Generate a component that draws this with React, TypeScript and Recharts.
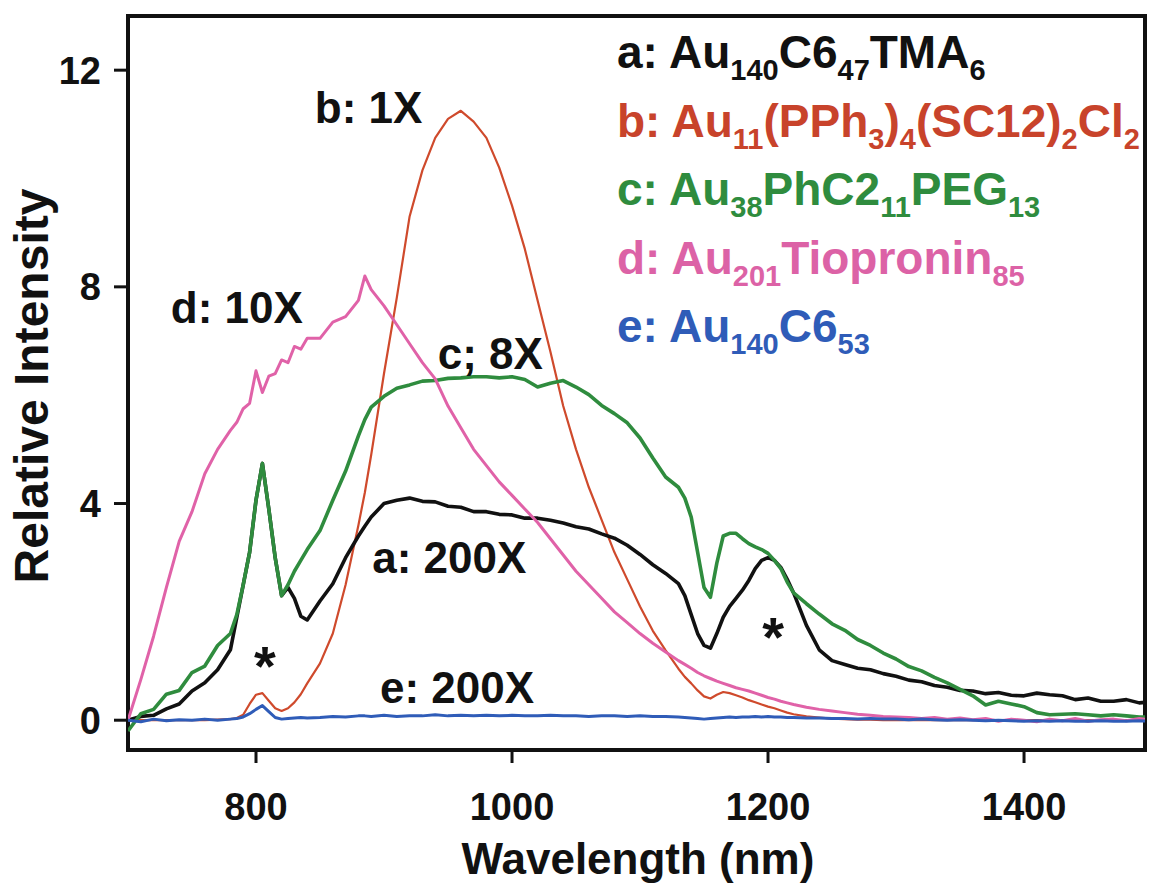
import React from 'react';
import { LineChart, Line, XAxis, YAxis, ReferenceArea, ReferenceDot, Legend } from 'recharts';

// ---------- data ----------
const wavelengths = [
  700, 710, 720, 730, 740, 750, 760, 770, 780,
  785, 790, 795, 800, 805, 810, 815, 820, 825, 830, 835, 840,
  850, 860, 870, 880, 885, 890, 900, 910, 920, 930, 940, 950, 960, 970, 980, 990, 1000,
  1010, 1020, 1030, 1040, 1050, 1060, 1070, 1080, 1090, 1100, 1110, 1120, 1130,
  1135, 1140, 1145, 1150, 1155, 1160, 1165, 1170, 1175, 1180, 1185, 1190, 1195, 1200, 1205, 1210, 1215, 1220,
  1230, 1240, 1250, 1260, 1270, 1280, 1290, 1300, 1310, 1320, 1330, 1340, 1350, 1360, 1370, 1380, 1390, 1400,
  1410, 1420, 1430, 1440, 1450, 1460, 1470, 1480, 1490, 1500,
];

// a: Au140C6_47TMA_6 (200X)
const seriesA = [
  0.0, 0.07, 0.09, 0.21, 0.3, 0.54, 0.69, 0.93, 1.3,
  1.9, 2.5, 3.1, 4.06, 4.74, 3.9, 3.0, 2.3, 2.45, 2.25, 1.92, 1.85,
  2.2, 2.52, 3.0, 3.4, 3.58, 3.75, 4.0, 4.06, 4.1, 4.04, 4.03, 3.95, 3.93, 3.85, 3.85, 3.8, 3.79,
  3.73, 3.73, 3.69, 3.64, 3.57, 3.53, 3.44, 3.36, 3.23, 3.06, 2.87, 2.71, 2.52,
  2.3, 1.95, 1.6, 1.38, 1.33, 1.6, 1.9, 2.1, 2.25, 2.4, 2.58, 2.8, 2.95, 3.0, 2.95, 2.82, 2.6, 2.35,
  1.75, 1.3, 1.1, 1.03, 0.96, 0.93, 0.86, 0.81, 0.74, 0.71, 0.64, 0.61, 0.55, 0.54, 0.49, 0.51, 0.46, 0.45,
  0.5, 0.47, 0.45, 0.38, 0.41, 0.35, 0.35, 0.38, 0.32, 0.34,
];

// b: Au11(PPh3)4(SC12)2Cl2 (1X)
const seriesB = [
  0, 0, 0, 0, 0, 0, 0, 0.01, 0.02,
  0.04, 0.1, 0.3, 0.47, 0.5, 0.36, 0.22, 0.17, 0.22, 0.33, 0.48, 0.68,
  1.05, 1.6, 2.5, 3.6, 4.2, 4.9, 6.4, 7.8, 9.3, 10.15, 10.75, 11.1, 11.25, 11.05, 10.75, 10.2, 9.5,
  8.7, 7.75, 6.8, 5.8, 5.0, 4.3, 3.7, 3.1, 2.6, 2.1, 1.65, 1.29, 0.95,
  0.8, 0.68, 0.55, 0.44, 0.4, 0.47, 0.52, 0.5, 0.46, 0.42, 0.37, 0.33, 0.29, 0.25, 0.22, 0.18, 0.14, 0.11,
  0.07, 0.05, 0.03, 0.02, 0.01, 0.01, 0, 0, 0, 0, 0, 0, 0, 0, 0, 0, 0, 0,
  0, 0, 0, 0, 0, 0, 0, 0, 0, 0,
];

// c: Au38PhC2_11PEG_13 (8X)
const seriesC = [
  -0.2, 0.12, 0.2, 0.48, 0.55, 0.88, 1.0, 1.38, 1.6,
  1.95, 2.5, 3.1, 4.06, 4.74, 3.9, 3.0, 2.3, 2.5, 2.75, 2.95, 3.15,
  3.5, 4.06, 4.6, 5.25, 5.55, 5.78, 5.98, 6.13, 6.19, 6.26, 6.27, 6.31, 6.32, 6.34, 6.34, 6.32, 6.34,
  6.29, 6.15, 6.22, 6.27, 6.15, 6.01, 5.81, 5.66, 5.49, 5.21, 4.84, 4.49, 4.3,
  4.1, 3.75, 3.1, 2.45, 2.27, 2.9, 3.4, 3.45, 3.45, 3.35, 3.26, 3.2, 3.15, 3.08, 2.95, 2.8, 2.55, 2.35,
  2.15, 1.96, 1.78, 1.66, 1.49, 1.38, 1.24, 1.13, 0.99, 0.91, 0.79, 0.69, 0.57, 0.45, 0.28, 0.35, 0.3, 0.25,
  0.14, 0.1, 0.11, 0.12, 0.1, 0.08, 0.1, 0.08, 0.06, 0.06,
];

// d: Au201Tiopronin85 (10X)
const seriesD = [
  0.0, 0.75, 1.55, 2.45, 3.3, 3.85, 4.55, 5.0, 5.35,
  5.5, 5.75, 5.85, 6.45, 6.05, 6.35, 6.4, 6.65, 6.6, 6.9, 6.85, 7.05,
  7.05, 7.35, 7.45, 7.75, 8.2, 7.95, 7.65, 7.3, 6.95, 6.6, 6.3, 5.8, 5.4, 5.0, 4.7, 4.4, 4.15,
  3.9, 3.65, 3.35, 3.05, 2.75, 2.5, 2.25, 2.0, 1.8, 1.6, 1.42, 1.26, 1.1,
  1.03, 0.96, 0.88, 0.82, 0.77, 0.72, 0.68, 0.64, 0.6, 0.57, 0.54, 0.5, 0.46, 0.42, 0.39, 0.35, 0.32, 0.29,
  0.24, 0.2, 0.17, 0.14, 0.11, 0.09, 0.07, 0.06, 0.05, 0.03, 0.05, 0.02, 0.04, 0.01, 0.03, -0.02, 0.02, 0.0,
  -0.03, 0.02, -0.01, 0.03, -0.02, 0.01, 0.02, -0.01, 0.03, 0.0,
];

// e: Au140C6_53 (200X)
const seriesE = [
  0.0, -0.03, 0.02, -0.01, 0.01, 0.0, 0.02, 0.0, 0.02,
  0.03, 0.06, 0.12, 0.2, 0.27, 0.16, 0.05, 0.02, 0.03, 0.04, 0.05, 0.04,
  0.05, 0.07, 0.06, 0.08, 0.08, 0.07, 0.09, 0.07, 0.08, 0.08, 0.1, 0.08, 0.09, 0.08, 0.09, 0.08, 0.09,
  0.08, 0.08, 0.09, 0.08, 0.08, 0.07, 0.08, 0.08, 0.07, 0.08, 0.07, 0.07, 0.06,
  0.05, 0.04, 0.03, 0.02, 0.03, 0.04, 0.05, 0.06, 0.05, 0.06, 0.06, 0.07, 0.06, 0.07, 0.06, 0.06, 0.05, 0.05,
  0.04, 0.04, 0.03, 0.03, 0.02, 0.03, 0.02, 0.02, 0.01, 0.02, 0.01, 0.0, 0.01, 0.0, -0.01, 0.0, -0.01, -0.02,
  -0.01, -0.02, -0.01, -0.02, -0.02, -0.01, -0.02, -0.02, -0.01, -0.02,
];

const xTicks = [800, 1000, 1200, 1400];
const yTicks = [0, 4, 8, 12];
const xDomain = [700, 1494.5];
const yDomain = [-0.55, 13];

const seriesKeys = ['b', 'a', 'c', 'd', 'e'];
const seriesColors: Record<string, string> = {
  a: '#111111',
  b: '#cf4a2c',
  c: '#2f8c3e',
  d: '#e062a8',
  e: '#2f5cb8',
};
const seriesWidths: Record<string, number> = { a: 3.6, b: 2.2, c: 3.6, d: 3, e: 3 };

// annotations: text, wavelength, intensity (label centre)
const annoTexts = ['b: 1X', 'd: 10X', 'c; 8X', 'a: 200X', 'e: 200X', '*', '*'];
const annoX = [888, 785, 983, 951, 957, 807, 1204];
const annoY = [11.32, 7.62, 6.78, 3.01, 0.61, 1.05, 1.6];

// legend lines: [text, isSubscript]
const legendLines: [string, boolean][][] = [
  [['a: Au', false], ['140', true], ['C6', false], ['47', true], ['TMA', false], ['6', true]],
  [['b: Au', false], ['11', true], ['(PPh', false], ['3', true], [')', false], ['4', true], ['(SC12)', false], ['2', true], ['Cl', false], ['2', true]],
  [['c: Au', false], ['38', true], ['PhC2', false], ['11', true], ['PEG', false], ['13', true]],
  [['d: Au', false], ['201', true], ['Tiopronin', false], ['85', true]],
  [['e: Au', false], ['140', true], ['C6', false], ['53', true]],
];
const legendColors = ['#111111', '#c8432b', '#2f8c3e', '#dc62a6', '#2f5cb8'];

const xTitle = 'Wavelength (nm)';
const yTitle = 'Relative Intensity';

// ---------- rendering ----------
const FONT = '"Liberation Sans", Arial, Helvetica, sans-serif';

const rows = wavelengths.map((x, i) => ({
  x,
  a: seriesA[i],
  b: seriesB[i],
  c: seriesC[i],
  d: seriesD[i],
  e: seriesE[i],
}));

function XTick(props: any) {
  const { x, payload } = props;
  return (
    <text x={x} y={820} textAnchor="middle" fontFamily={FONT} fontWeight="bold" fontSize={38} fill="#111">
      {payload.value}
    </text>
  );
}

function YTick(props: any) {
  const { y, payload } = props;
  return (
    <text x={101} y={y + 13.5} textAnchor="end" fontFamily={FONT} fontWeight="bold" fontSize={38} fill="#111">
      {payload.value}
    </text>
  );
}

function XTitle() {
  return (
    <text x={638} y={874} textAnchor="middle" fontFamily={FONT} fontWeight="bold" fontSize={44} fill="#111">
      {xTitle}
    </text>
  );
}

function YTitle() {
  return (
    <text
      transform="translate(48,386) rotate(-90)"
      textAnchor="middle"
      fontFamily={FONT}
      fontWeight="bold"
      fontSize={48}
      fill="#111"
    >
      {yTitle}
    </text>
  );
}

function LegendBlock() {
  return (
    <svg width={1149} height={400} style={{ display: 'block' }}>
      {legendLines.map((segs, i) => {
        let prevSub = false;
        return (
          <text key={i} x={617} y={68 + i * 68.5} fill={legendColors[i]} fontFamily={FONT} fontWeight="bold" fontSize={46}>
            {segs.map(([t, sub], j) => {
              let dy = 0;
              if (sub && !prevSub) dy = 12;
              if (!sub && prevSub) dy = -12;
              prevSub = sub;
              return (
                <tspan key={j} dy={dy} fontSize={sub ? 29 : 46}>
                  {t}
                </tspan>
              );
            })}
          </text>
        );
      })}
    </svg>
  );
}

function makeAnno(text: string) {
  return (p: any) => (
    <text
      x={p.cx}
      y={p.cy + (text === '*' ? 22 : 16)}
      textAnchor="middle"
      fontFamily={FONT}
      fontWeight="bold"
      fontSize={text === '*' ? 56 : 44}
      fill="#111"
    >
      {text}
    </text>
  );
}

export default function App() {
  return (
    <div style={{ position: 'absolute', left: 0, top: 0, width: 1149, height: 886, background: '#fff' }}>
      <LineChart width={1149} height={886} data={rows} margin={{ top: 16, right: 4, bottom: 0, left: 0 }}>
        <XAxis
          dataKey="x"
          type="number"
          domain={xDomain}
          ticks={xTicks}
          allowDataOverflow
          axisLine={false}
          tickLine={{ stroke: '#111', strokeWidth: 3 }}
          tickSize={13}
          height={136}
          tick={<XTick />}
          label={<XTitle />}
        />
        <YAxis
          type="number"
          domain={yDomain}
          ticks={yTicks}
          allowDataOverflow
          axisLine={false}
          tickLine={{ stroke: '#111', strokeWidth: 3 }}
          tickSize={14}
          width={128}
          tick={<YTick />}
          label={<YTitle />}
        />
        {seriesKeys.map((k) => (
          <Line
            key={k}
            dataKey={k}
            type="linear"
            stroke={seriesColors[k]}
            strokeWidth={seriesWidths[k]}
            strokeLinejoin="round"
            dot={false}
            activeDot={false}
            isAnimationActive={false}
          />
        ))}
        {annoTexts.map((t, i) => (
          <ReferenceDot key={i} x={annoX[i]} y={annoY[i]} r={1} shape={makeAnno(t)} />
        ))}
        <ReferenceArea
          x1={xDomain[0]}
          x2={xDomain[1]}
          y1={yDomain[0]}
          y2={yDomain[1]}
          fill="none"
          stroke="#111"
          strokeWidth={4}
          ifOverflow="visible"
        />
        <Legend
          layout="vertical"
          align="center"
          verticalAlign="middle"
          content={<LegendBlock />}
          wrapperStyle={{ position: 'absolute', left: 0, top: 0, width: 1149, height: 400, margin: 0, padding: 0, pointerEvents: 'none' }}
        />
      </LineChart>
    </div>
  );
}
